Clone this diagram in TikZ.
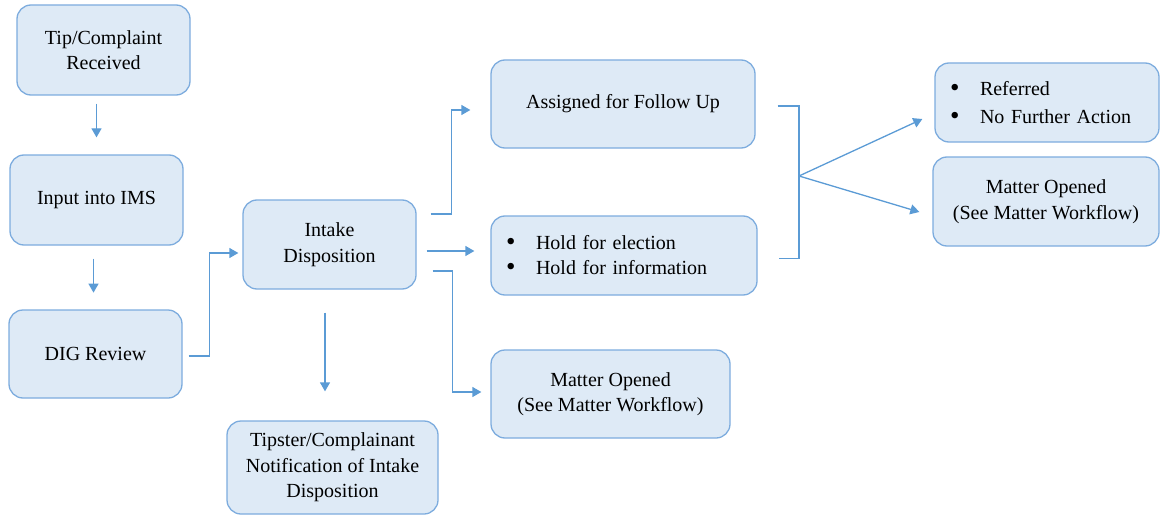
\documentclass[tikz,border=0pt]{standalone}
\usepackage{fontspec}
\setmainfont{Liberation Serif}
\usetikzlibrary{calc,arrows.meta}
\definecolor{boxfill}{RGB}{222,234,246}
\definecolor{boxline}{RGB}{125,172,222}
\definecolor{arrcol}{RGB}{91,155,213}
\newcommand{\bul}{\makebox[30pt][l]{\raisebox{-1pt}{\fontsize{27}{27}\selectfont\textbullet}}}
\begin{document}
\begin{tikzpicture}[x=1pt,y=-1pt,
  box/.style={draw=boxline, fill=boxfill, line width=1.3pt, rounded corners=14pt,
    align=center, inner sep=0pt, font=\fontsize{20}{25.5}\selectfont},
  lbox/.style={box, align=left, inner xsep=15pt},
  conn/.style={draw=arrcol, line width=1.3pt},
  arr/.style={conn, -{Triangle[length=9pt,width=10pt]}}]
\useasboundingbox (0,0) rectangle (1161,516);
\node[box, minimum width=173, minimum height=90] (tip) at (103.5,50) {Tip/Complaint\\Received};
\node[box, minimum width=173, minimum height=90] (ims) at (96.5,200) {Input into IMS};
\node[box, minimum width=173, minimum height=88] (dig) at (95.5,354) {DIG Review};
\node[box, minimum width=173, minimum height=89] (intake) at (329.5,244.5) {Intake\\Disposition};
\node[box, minimum width=264, minimum height=88] (assigned) at (623,104) {Assigned for Follow Up};
\node[lbox, text width=236, minimum height=79] (hold) at (624,255.5) {\bul Hold for election\\\bul Hold for information};
\node[lbox, text width=194, minimum height=79, font=\fontsize{20}{28}\selectfont] (referred) at (1047,102.5) {\bul Referred\\\bul No Further Action};
\node[box, minimum width=239, minimum height=88] (matter) at (610.5,394) {Matter Opened\\(See Matter Workflow)};
\node[box, minimum width=211, minimum height=93] (tipster) at (332.5,467.5) {Tipster/Complainant\\Notification of Intake\\Disposition};
\node[box, minimum width=226, minimum height=89] (matterR) at (1046,201.5) {Matter Opened\\(See Matter Workflow)};

\draw[arr] ($(tip.south -| ims.north)+(0,8)$) -- ($(ims.north)+(0,-17)$);
\draw[arr] ($(ims.south)+(-3,13)$) -- ($(ims.south)+(-3,47)$);
\draw[arr] ($(dig.east)+(6,2)$) -| ($(intake.west)+(-33,8.5)$) -- ($(intake.west)+(-4,8.5)$);
\draw[arr] ($(intake.east)+(14,-30.5)$) -| ($(assigned.west)+(-39,6)$) -- ($(assigned.west)+(-20,6)$);
\draw[arr] ($(intake.east)+(10,6.5)$) -- ($(hold.west)+(-16,-4.5)$);
\draw[arr] ($(intake.east)+(16,26.5)$) -| ($(matter.west)+(-38,-2)$) -- ($(matter.west)+(-9,-2)$);
\draw[arr] ($(intake.south)+(-4.5,23)$) -- ($(tipster.north)+(-7.5,-29)$);

\coordinate (brk) at (799,176);
\draw[conn] ($(assigned.east)+(22,2)$) -| (brk) |- ($(hold.east)+(21,3)$);
\draw[arr] (brk) -- ($(referred.west)+(-12,16.5)$);
\draw[arr] (brk) -- ($(matterR.west)+(-13,10.5)$);
\end{tikzpicture}
\end{document}
